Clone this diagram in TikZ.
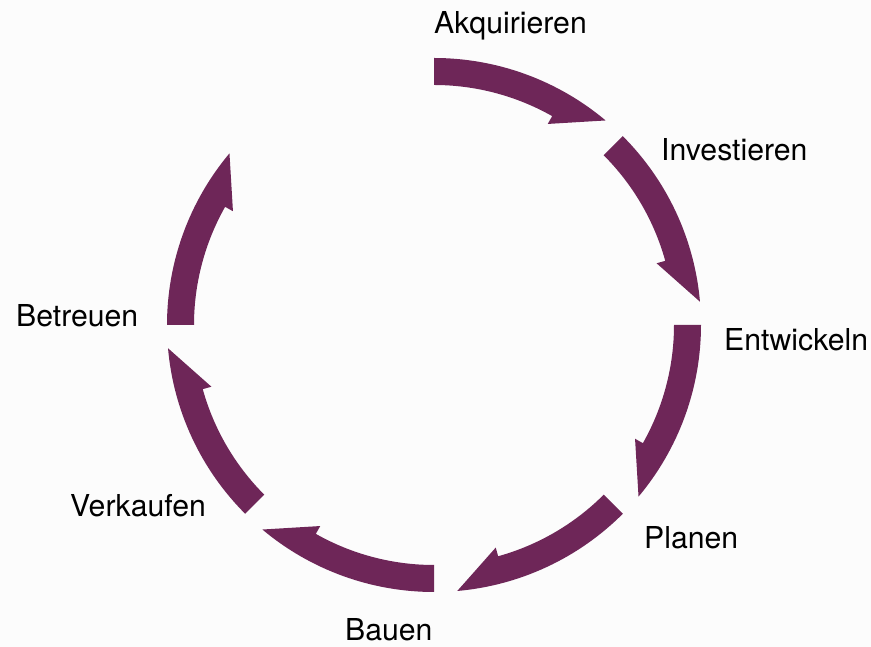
\documentclass[tikz,border=0pt]{standalone}
\usepackage{fontspec}
\setmainfont{TeX Gyre Heros}
\definecolor{arcpurple}{RGB}{110,38,88}
\begin{document}
\begin{tikzpicture}[x=1pt,y=1pt,
  lab/.style={font=\fontsize{30.2}{33}\selectfont, inner sep=0pt, anchor=base west, text=black},
  seg/.style={fill=arcpurple}]
\useasboundingbox (0,0) rectangle (871,647);
\fill[white!99!black] (0,0) rectangle (871,647);
\coordinate (c) at (434,322);
\foreach \s in {90,45,0,-45,-90,-135,180} {
  \fill[seg, shift={(c)}] (\s:267pt) arc[start angle=\s, end angle=\s-40, radius=267pt]
     -- ({\s-29.5}:231pt) -- ({\s-29.5}:240pt)
     arc[start angle=\s-29.5, end angle=\s, radius=240pt] -- cycle;
}
\node[lab] (akq) at (434,613) {Akquirieren};
\node[lab] (inv) at (661,486) {Investieren};
\node[lab] (ent) at (724,296) {Entwickeln};
\node[lab] (pla) at (644,98) {Planen};
\node[lab] (bau) at (345,6) {Bauen};
\node[lab] (ver) at (70,130) {Verkaufen};
\node[lab] (bet) at (16,320) {Betreuen};
\end{tikzpicture}
\end{document}
